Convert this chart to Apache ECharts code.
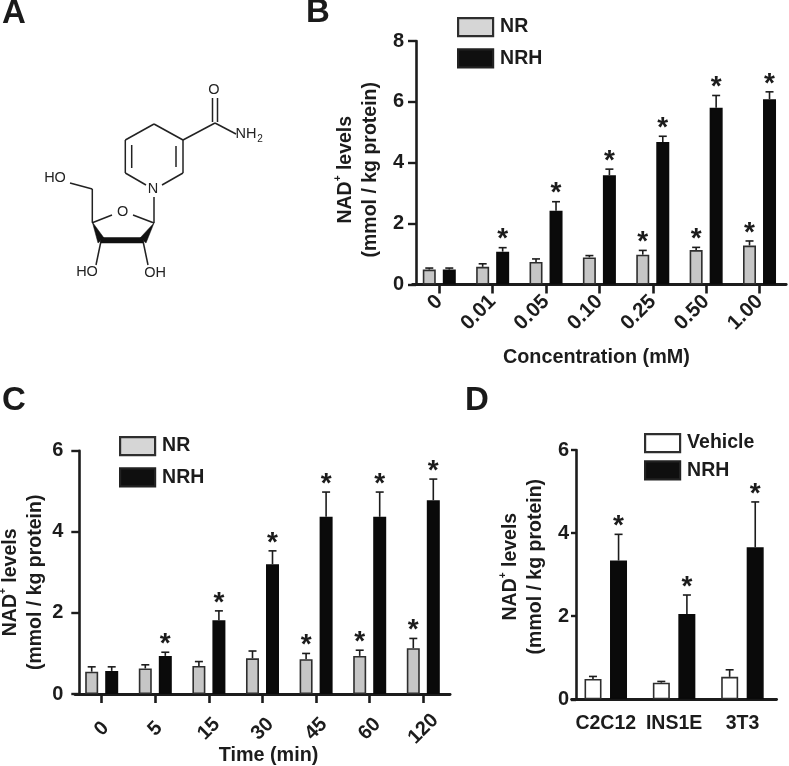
<!DOCTYPE html>
<html><head><meta charset="utf-8">
<style>html,body{margin:0;padding:0;background:#fff}#c{width:789px;height:766px}</style>
<script src="https://cdn.jsdelivr.net/npm/echarts@6/dist/echarts.min.js"></script>
</head><body><div id="c"></div>
<script>
// ---------- data ----------
const catsB = ['0','0.01','0.05','0.10','0.25','0.50','1.00'];
const nrB   = [0.49,0.58,0.74,0.89,0.98,1.13,1.28];
const nrBErr= [0.05,0.10,0.10,0.06,0.14,0.09,0.15];
const nrBStar=[0,0,0,0,1,1,1];
const nrhB   = [0.49,1.08,2.42,3.59,4.68,5.81,6.09];
const nrhBErr= [0.05,0.13,0.30,0.20,0.19,0.40,0.24];
const nrhBStar=[0,1,1,1,1,1,1];

const catsC = ['0','5','15','30','45','60','120'];
const nrC   = [0.55,0.63,0.69,0.88,0.86,0.94,1.13];
const nrCErr= [0.12,0.09,0.11,0.18,0.14,0.14,0.24];
const nrCStar=[0,0,0,0,1,1,1];
const nrhC   = [0.57,0.94,1.82,3.20,4.37,4.37,4.78];
const nrhCErr= [0.10,0.09,0.23,0.33,0.61,0.61,0.52];
const nrhCStar=[0,1,1,1,1,1,1];

const catsD = ['C2C12','INS1E','3T3'];
const vehD   = [0.49,0.40,0.54];
const vehDErr= [0.06,0.03,0.17];
const vehDStar=[0,0,0];
const nrhD   = [3.34,2.05,3.66];
const nrhDErr= [0.63,0.46,1.09];
const nrhDStar=[1,1,1];

// ---------- styling ----------
const FONT = '"Liberation Sans", Arial, sans-serif';
const INK = '#1c1c1c', GREY = '#c6c6c6', BLACK = '#0a0a0a';
const FS = 19.5;

function boxStyle(fill){ return {color:fill, borderColor:fill===BLACK?BLACK:'#2e2e2e', borderWidth:1.6}; }

function errSeries(name,means,errs,stars,axis,dx){
  return {
    type:'custom', xAxisIndex:axis, yAxisIndex:axis, z:1, silent:true, clip:false,
    encode:{x:0,y:1}, tooltip:{show:false},
    data:means.map((m,i)=>[i,m,errs[i],stars[i]]),
    renderItem(params,api){
      const i=api.value(0), m=api.value(1), e=api.value(2), s=api.value(3);
      const base=api.coord([i,m]), top=api.coord([i,m+e]);
      const x=base[0]+dx, cap=4;
      const ls={stroke:INK,lineWidth:1.6};
      const children=[
        {type:'line',shape:{x1:x,y1:base[1],x2:x,y2:top[1]},style:ls},
        {type:'line',shape:{x1:x-cap,y1:top[1],x2:x+cap,y2:top[1]},style:ls}
      ];
      if(s) children.push({type:'text',style:{text:'*',x:x,y:top[1]-8,align:'center',verticalAlign:'middle',
        font:'bold 28px "Liberation Sans"',fill:INK}});
      return {type:'group',children};
    }
  };
}
function bar(name,vals,axis,fill,w,gap){
  return {name,type:'bar',xAxisIndex:axis,yAxisIndex:axis,data:vals,barWidth:w,barGap:gap,
    itemStyle:boxStyle(fill),z:2};
}
function yA(g,max,interval,off,tick,margin,gap,pad,name){
  return {type:'value',gridIndex:g,min:0,max,interval,offset:off,
    axisLine:{show:true,lineStyle:{color:INK,width:2.6}},
    axisTick:{show:true,length:tick,lineStyle:{color:INK,width:2.4}},
    splitLine:{show:false},
    axisLabel:{margin,color:INK,fontFamily:FONT,fontWeight:'bold',fontSize:FS+0.5},
    name,nameLocation:'middle',nameGap:gap,nameRotate:90,nameMoveOverlap:false,
    nameTextStyle:{padding:pad,rich:{
      a:{fontFamily:FONT,fontWeight:'bold',fontSize:FS,color:INK,lineHeight:25},
      s:{fontFamily:FONT,fontWeight:'bold',fontSize:10,color:INK,lineHeight:25,verticalAlign:'top'}}}};
}
function xA(g,data,labelOpts,tick,name,gap,pad){
  return {type:'category',gridIndex:g,data,
    axisLine:{show:true,lineStyle:{color:INK,width:2.8}},
    axisTick:{show:tick>0,length:tick,alignWithLabel:true,lineStyle:{color:INK,width:2.6}},
    axisLabel:Object.assign({interval:0,color:INK,fontFamily:FONT,fontWeight:'bold',fontSize:FS},labelOpts),
    name,nameLocation:'middle',nameGap:gap,nameMoveOverlap:false,
    nameTextStyle:{fontFamily:FONT,fontWeight:'bold',fontSize:FS+0.3,color:INK,padding:pad}};
}
function leg(x,y,gap,items){
  return {show:true,left:x,top:y,padding:0,orient:'vertical',itemWidth:35,itemHeight:18,itemGap:gap,selectedMode:false,
    textStyle:{fontFamily:FONT,fontWeight:'bold',fontSize:FS,color:INK,padding:[0,0,0,2]},
    data:items.map(([name,fill])=>({name,icon:'rect',
      itemStyle:{color:fill,borderColor:fill==='#0f0f0f'?'#222':'#2e2e2e',borderWidth:2.2}}))};
}
const yName='{a|NAD}{s|+}{a| levels}\n{a|(mmol / kg protein)}';

// ---------- panel A: the drawn molecule ----------
const bonds=[[125.3,140,154,124],[154,124,183,140],[183,140,183,173],[176,146,176,167],[183,173,162,185],
 [125.3,173,146,185],[125.3,140,125.3,173],[131.7,145,131.7,168],[183,140,215,123],[212.5,98,212.5,122],[217.5,98,217.5,122],
 [215,123,236,134],[154,197,154,223],[154,223,133,215],[92.3,222.7,112,215],[92.3,222.7,92.3,189],[92.3,189,70,183],
 [101,241,96,265],[143,241,148,265]];
const wedges=[[[92.3,222],[98,243],[104,238]],[[154,223],[140,238],[146,243]],[[101,237.5],[143,237.5],[143,243],[101,243]]];
const atoms=[['O',214,90],['NH',246,133.5],['N',153,189],['O',122.7,212],['HO',55,178],['HO',87,272],['OH',155,272.5]];
const panels=[['A',14,14],['B',318,13],['C',14,401],['D',477,401]];

const graphic=[
 ...bonds.map(b=>({type:'line',shape:{x1:b[0],y1:b[1],x2:b[2],y2:b[3]},style:{stroke:'#222',lineWidth:1.5}})),
 ...wedges.map(p=>({type:'polygon',shape:{points:p},style:{fill:'#111',stroke:'#111',lineWidth:.5}})),
 ...atoms.map(a=>({type:'text',x:a[1],y:a[2],style:{text:a[0],align:'center',verticalAlign:'middle',font:'14.5px "Liberation Sans"',fill:'#222'}})),
 {type:'text',x:260,y:139,style:{text:'2',align:'center',verticalAlign:'middle',font:'10px "Liberation Sans"',fill:'#222'}},
 ...panels.map(p=>({type:'text',x:p[1],y:p[2],style:{text:p[0],align:'center',verticalAlign:'middle',font:'bold 33px "Liberation Sans"',fill:'#1a1a1a'}}))
];

const chart=echarts.init(document.getElementById('c'),null,{renderer:'canvas'});
chart.setOption({
  animation:false,backgroundColor:'#fff',graphic,
  legend:[leg(457,17,11,[['NR','#d6d6d6'],['NRH','#0f0f0f']]),
          leg(119,436,11,[['NR','#d6d6d6'],['NRH','#0f0f0f']]),
          leg(644,433,7,[['Vehicle','#ffffff'],['NRH','#0f0f0f']])],
  grid:[{left:412.6,top:41,width:373.6,height:243.5,outerBoundsMode:'none'},
        {left:74.9,top:450.7,width:375.2,height:243.3,outerBoundsMode:'none'},
        {left:571.6,top:450,width:205,height:249.3,outerBoundsMode:'none'}],
  xAxis:[xA(0,catsB,{rotate:45,margin:14,padding:[8,0,0,0],fontSize:20.5},9,'Concentration (mM)',63,[0,6,0,0]),
         xA(1,catsC,{rotate:45,margin:35,align:'center',verticalAlign:'middle',fontSize:20},9,'Time (min)',52,[0,0,0,12]),
         xA(2,catsD,{margin:14},0,'',0,0)],
  yAxis:[yA(0,8,2,-3.4,8,12,32.5,[0,14,0,0],yName),
         yA(1,6,2,-4.4,8,16,31,[0,20,0,0],yName),
         yA(2,6,2,-4.4,5,7,28,[0,0,0,16],yName)],
  series:[
    bar('NR',nrB,0,GREY,13,'54%'),bar('NRH',nrhB,0,BLACK,13,'54%'),
    errSeries('',nrB,nrBErr,nrBStar,0,-10),errSeries('',nrhB,nrhBErr,nrhBStar,0,10),
    bar('NR',nrC,1,GREY,13,'54%'),bar('NRH',nrhC,1,BLACK,13,'54%'),
    errSeries('',nrC,nrCErr,nrCStar,1,-10),errSeries('',nrhC,nrhCErr,nrhCStar,1,10),
    bar('Vehicle',vehD,2,'#ffffff',17,'50%'),bar('NRH',nrhD,2,BLACK,17,'50%'),
    errSeries('',vehD,vehDErr,vehDStar,2,-12.8),errSeries('',nrhD,nrhDErr,nrhDStar,2,12.8)
  ]
});
</script></body></html>
